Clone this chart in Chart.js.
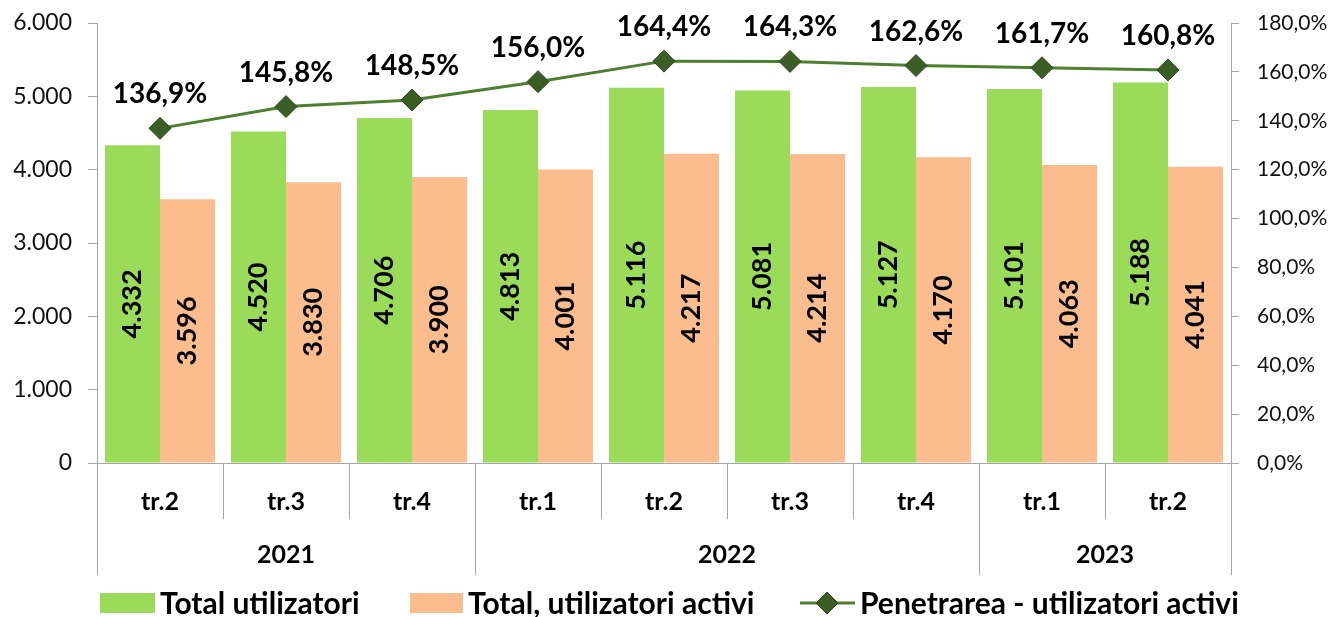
<!DOCTYPE html>
<html>
<head>
<meta charset="utf-8">
<script src="https://cdn.jsdelivr.net/npm/chart.js@4/dist/chart.umd.min.js"></script>
<style>
  html, body { margin: 0; padding: 0; background: #fff; }
  #wrap { width: 1339px; height: 617px; position: relative; }
</style>
</head>
<body>
<div id="wrap"><canvas id="c"></canvas></div>
<script>
// ---- data ----
const quarters = ['tr.2', 'tr.3', 'tr.4', 'tr.1', 'tr.2', 'tr.3', 'tr.4', 'tr.1', 'tr.2'];
const years = ['2021', '2021', '2021', '2022', '2022', '2022', '2022', '2023', '2023'];
const totalUtilizatori = [4332, 4520, 4706, 4813, 5116, 5081, 5127, 5101, 5188];
const totalActivi = [3596, 3830, 3900, 4001, 4217, 4214, 4170, 4063, 4041];
const penetrare = [136.9, 145.8, 148.5, 156.0, 164.4, 164.3, 162.6, 161.7, 160.8];

const FONT = "Lato, 'Open Sans', sans-serif";
const GREEN = '#9bdb5a';
const ORANGE = '#fcbd8e';
const LINE = '#4f7f2e';
const AXIS = '#a6a6a6';

const fmtThousands = v => {
  const s = Math.round(v).toString();
  return s.length > 3 ? s.slice(0, -3) + '.' + s.slice(-3) : s;
};
const fmtPct = v => v.toFixed(1).replace('.', ',') + '%';

// ---- value labels ----
const valueLabels = {
  id: 'valueLabels',
  afterDatasetsDraw(chart) {
    const c = chart.ctx;
    c.save();
    c.fillStyle = '#000';
    c.textAlign = 'center';
    c.textBaseline = 'middle';
    chart.data.datasets.forEach((ds, di) => {
      const meta = chart.getDatasetMeta(di);
      meta.data.forEach((el, i) => {
        if (ds.type === 'line') {
          c.font = `bold 28px ${FONT}`;
          c.fillText(fmtPct(ds.data[i]), el.x, el.y - 34);
        } else {
          c.font = `bold 27px ${FONT}`;
          c.save();
          c.translate(el.x, (el.y + el.base) / 2);
          c.rotate(-Math.PI / 2);
          c.fillText(fmtThousands(ds.data[i]), 0, 0);
          c.restore();
        }
      });
    });
    c.restore();
  }
};

// ---- two-level category axis + legend ----
const multiAxis = {
  id: 'multiAxis',
  afterDraw(chart) {
    const c = chart.ctx;
    const xs = chart.scales.x;
    const n = quarters.length;
    const w = (xs.right - xs.left) / n;
    const base = chart.chartArea.bottom;
    c.save();
    c.strokeStyle = AXIS;
    c.lineWidth = 1;
    // separators
    for (let i = 0; i <= n; i++) {
      const x = Math.round(xs.left + i * w) + 0.5;
      const yearEdge = i === 0 || i === n || years[i] !== years[i - 1];
      c.beginPath();
      c.moveTo(x, base);
      c.lineTo(x, yearEdge ? base + 112 : base + 56);
      c.stroke();
    }
    c.fillStyle = '#000';
    c.textAlign = 'center';
    c.textBaseline = 'middle';
    c.font = `bold 25px ${FONT}`;
    quarters.forEach((q, i) => {
      c.fillText(q, xs.getPixelForValue(i), base + 39);
    });
    let start = 0;
    for (let i = 1; i <= n; i++) {
      if (i === n || years[i] !== years[start]) {
        const x0 = xs.getPixelForValue(start), x1 = xs.getPixelForValue(i - 1);
        c.fillText(years[start], (x0 + x1) / 2, base + 92);
        start = i;
      }
    }

    // legend
    const ly = 603;
    c.textAlign = 'left';
    c.font = `bold 30px ${FONT}`;
    c.fillStyle = GREEN;
    c.fillRect(100, ly - 10, 55, 20);
    c.fillStyle = ORANGE;
    c.fillRect(410, ly - 10, 53, 20);
    c.strokeStyle = LINE;
    c.lineWidth = 3;
    c.beginPath();
    c.moveTo(800, ly);
    c.lineTo(855, ly);
    c.stroke();
    c.fillStyle = '#3a5e26';
    c.strokeStyle = '#2c471d';
    c.lineWidth = 1;
    c.beginPath();
    c.moveTo(827, ly - 11);
    c.lineTo(838, ly);
    c.lineTo(827, ly + 11);
    c.lineTo(816, ly);
    c.closePath();
    c.fill();
    c.stroke();
    c.fillStyle = '#000';
    c.fillText('Total utilizatori', 160, ly + 1);
    c.fillText('Total, utilizatori activi', 468, ly + 1);
    c.fillText('Penetrarea - utilizatori activi', 860, ly + 1);
    c.restore();
  }
};

const fitY = width => s => {
  s.width = width;
  s.paddingTop = 0;
  s.paddingBottom = 0;
};

new Chart(document.getElementById('c'), {
  type: 'bar',
  data: {
    labels: quarters,
    datasets: [
      {
        type: 'line',
        label: 'Penetrarea - utilizatori activi',
        data: penetrare,
        yAxisID: 'y1',
        borderColor: LINE,
        borderWidth: 3,
        pointStyle: 'rectRot',
        pointRadius: 11,
        pointBackgroundColor: '#3a5e26',
        pointBorderColor: '#2c471d',
        pointBorderWidth: 1,
        order: 0,
      },
      {
        label: 'Total utilizatori',
        data: totalUtilizatori,
        backgroundColor: GREEN,
        categoryPercentage: 0.873,
        barPercentage: 1.0,
        order: 1,
      },
      {
        label: 'Total, utilizatori activi',
        data: totalActivi,
        backgroundColor: ORANGE,
        categoryPercentage: 0.873,
        barPercentage: 1.0,
        order: 1,
      },
    ],
  },
  options: {
    responsive: true,
    maintainAspectRatio: false,
    animation: false,
    layout: { padding: { top: 23, left: 0, right: 0, bottom: 0 } },
    plugins: {
      legend: { display: false },
      tooltip: { enabled: false },
    },
    scales: {
      x: {
        offset: true,
        grid: { display: false },
        ticks: { display: false },
        border: { color: AXIS },
        afterFit: s => { s.height = 154; },
      },
      y: {
        position: 'left',
        min: 0,
        max: 6000,
        ticks: { stepSize: 1000, callback: v => fmtThousands(v), font: { family: FONT, size: 23 }, color: '#111', padding: 16 },
        grid: { drawOnChartArea: false, tickLength: 9, color: AXIS },
        border: { color: AXIS },
        afterFit: fitY(97),
      },
      y1: {
        position: 'right',
        min: 0,
        max: 180,
        ticks: { stepSize: 20, callback: v => fmtPct(v), font: { family: FONT, size: 21 }, color: '#111', padding: 18 },
        grid: { drawOnChartArea: false, tickLength: 8, color: AXIS },
        border: { color: AXIS },
        afterFit: fitY(108),
      },
    },
  },
  plugins: [valueLabels, multiAxis],
});
</script>
</body>
</html>
